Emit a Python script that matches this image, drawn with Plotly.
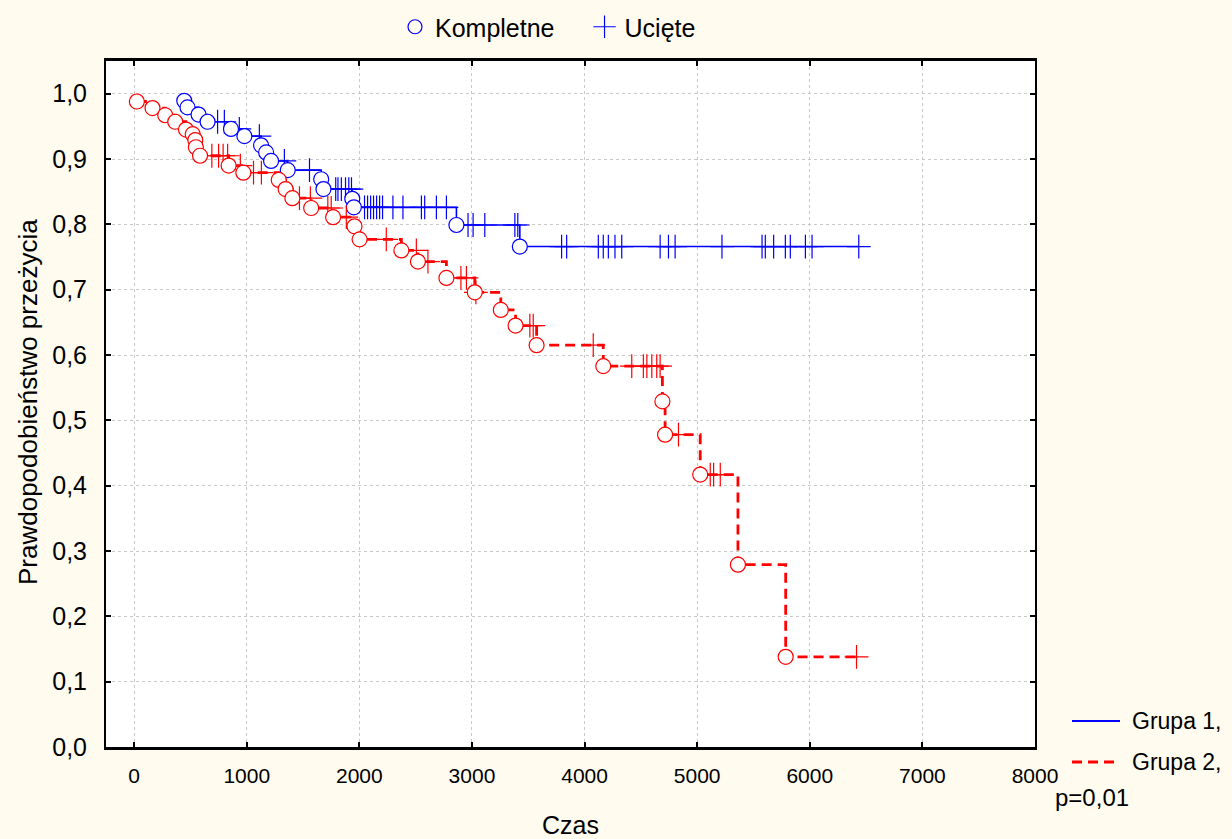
import numpy as np
import plotly.graph_objects as go

# Kaplan-Meier estimates: event (complete) times and survival after each event
g1_event_t = [445, 474, 572, 652, 860, 979, 1127, 1172, 1216, 1364, 1661, 1681,
              1937, 1951, 2862, 3425]
g1_event_s = [0.989, 0.979, 0.968, 0.957, 0.946, 0.935, 0.921, 0.910, 0.897,
              0.883, 0.869, 0.854, 0.839, 0.826, 0.799, 0.766]
g1_censor_t = [741, 801, 934, 1112, 1334, 1557, 1790, 1810, 1840, 1877, 1906,
               1930, 2046, 2073, 2100, 2126, 2153, 2180, 2206, 2298, 2387, 2551,
               2580, 2684, 2773, 2965, 3010, 3114, 3381, 3407, 3796, 3841, 4122,
               4166, 4211, 4270, 4330, 4671, 4745, 4804, 5220, 5576, 5605, 5679,
               5783, 5827, 5961, 6020, 6435]

g2_event_t = [24, 163, 276, 365, 460, 520, 543, 548, 585, 839, 970, 1284, 1345,
              1405, 1572, 1767, 1957, 2002, 2373, 2520, 2773, 3025, 3256, 3387,
              3574, 4166, 4691, 4715, 5027, 5362, 5786]
g2_event_s = [0.988, 0.978, 0.967, 0.957, 0.945, 0.938, 0.929, 0.918, 0.905,
              0.890, 0.879, 0.868, 0.854, 0.840, 0.825, 0.811, 0.797, 0.777,
              0.760, 0.743, 0.718, 0.696, 0.669, 0.645, 0.615, 0.583, 0.529,
              0.478, 0.417, 0.279, 0.138]
g2_censor_t = [690, 750, 790, 830, 943, 1060, 1130, 1468, 1565, 1720, 1750, 1884,
               2239, 2506, 2609, 2902, 2951, 3035, 3514, 3544, 4077, 4419, 4522,
               4553, 4597, 4641, 4671, 4834, 5116, 5146, 5205, 6415]

x_ticks = [0, 1000, 2000, 3000, 4000, 5000, 6000, 7000, 8000]
x_ticktext = ["0", "1000", "2000", "3000", "4000", "5000", "6000", "7000", "8000"]
y_ticks = [0.0, 0.1, 0.2, 0.3, 0.4, 0.5, 0.6, 0.7, 0.8, 0.9, 1.0]
y_ticktext = ["0,0", "0,1", "0,2", "0,3", "0,4", "0,5", "0,6", "0,7", "0,8", "0,9", "1,0"]

BLUE = "#0000FF"
RED = "#FF0000"
FONT = "Liberation Sans, Arial, sans-serif"
RED_DASH = "10px,6px"


def censor_levels(event_t, event_s, censor_t):
    """Survival value of the step curve at each censoring time."""
    idx = np.searchsorted(np.asarray(event_t), np.asarray(censor_t), side="right") - 1
    s = np.asarray(event_s)
    return [float(s[i]) if i >= 0 else 1.0 for i in idx]


def step_xy(event_t, event_s, censor_t):
    xs = list(event_t)
    ys = list(event_s)
    last = max(censor_t)
    if last > xs[-1]:
        xs.append(last)
        ys.append(ys[-1])
    return xs, ys


fig = go.Figure()

groups = [
    (g1_event_t, g1_event_s, g1_censor_t, BLUE, "solid", 1.6),
    (g2_event_t, g2_event_s, g2_censor_t, RED, RED_DASH, 2.8),
]

for ev_t, ev_s, c_t, color, dash, lw in groups:
    sx, sy = step_xy(ev_t, ev_s, c_t)
    fig.add_trace(go.Scatter(
        x=sx, y=sy, mode="lines", line=dict(color=color, width=lw, dash=dash, shape="hv"),
        showlegend=False, hoverinfo="skip"))

for ev_t, ev_s, c_t, color, dash, lw in groups:
    fig.add_trace(go.Scatter(
        x=c_t, y=censor_levels(ev_t, ev_s, c_t), mode="markers",
        marker=dict(symbol="cross-thin", size=17, color=color,
                    line=dict(color=color, width=1.2)),
        showlegend=False, hoverinfo="skip"))
    fig.add_trace(go.Scatter(
        x=ev_t, y=ev_s, mode="markers",
        marker=dict(symbol="circle", size=15, color="white",
                    line=dict(color=color, width=1.2)),
        showlegend=False, hoverinfo="skip"))

# Marker legend at the top
fig.add_trace(go.Scatter(
    x=[None], y=[None], mode="markers", name="Kompletne\u2003",
    marker=dict(symbol="circle-open", size=14, color=BLUE, line=dict(color=BLUE, width=1.2))))
fig.add_trace(go.Scatter(
    x=[None], y=[None], mode="markers", name="Ucięte",
    marker=dict(symbol="cross-thin", size=16, color=BLUE, line=dict(color=BLUE, width=1.2))))

axis_common = dict(
    showgrid=True, gridcolor="#C8C8C8", griddash="3px,3px", gridwidth=1,
    showline=True, linecolor="black", mirror="ticks",
    ticks="inside", ticklen=5, tickcolor="black", tickwidth=1.5,
    zeroline=False,
)

fig.update_xaxes(range=[-250, 8000], tickvals=x_ticks, ticktext=x_ticktext,
                 linewidth=3, ticklabelstandoff=8,
                 tickfont=dict(family=FONT, size=21, color="black"), **axis_common)
fig.update_yaxes(range=[0, 1.05], tickvals=y_ticks, ticktext=y_ticktext,
                 linewidth=2, ticklabelstandoff=12,
                 tickfont=dict(family=FONT, size=25, color="black"), **axis_common)

# Group legend (right, below the plot) drawn from lines and labels
def px_x(px):
    return (px - 106) / 929


def px_y(py):
    return (747 - py) / 686


shapes = [
    dict(type="line", xref="paper", yref="paper", x0=px_x(1072), x1=px_x(1120),
         y0=px_y(721), y1=px_y(721), line=dict(color=BLUE, width=2)),
    dict(type="line", xref="paper", yref="paper", x0=px_x(1072), x1=px_x(1120),
         y0=px_y(762), y1=px_y(762), line=dict(color=RED, width=2.8, dash=RED_DASH)),
]

annotations = [
    dict(text="Grupa 1,", xref="paper", yref="paper", x=px_x(1130), y=px_y(721),
         xanchor="left", yanchor="middle", showarrow=False, font=dict(family=FONT, size=23)),
    dict(text="Grupa 2,", xref="paper", yref="paper", x=px_x(1130), y=px_y(762),
         xanchor="left", yanchor="middle", showarrow=False, font=dict(family=FONT, size=23)),
    dict(text="p=0,01", xref="paper", yref="paper", x=px_x(1053), y=px_y(797),
         xanchor="left", yanchor="middle", showarrow=False, font=dict(family=FONT, size=24)),
    dict(text="Czas", xref="paper", yref="paper", x=0.5, y=px_y(825),
         xanchor="center", yanchor="middle", showarrow=False, font=dict(family=FONT, size=25)),
    dict(text="Prawdopodobieństwo przeżycia", xref="paper", yref="paper",
         x=px_x(28), y=px_y(402), textangle=-90,
         xanchor="center", yanchor="middle", showarrow=False, font=dict(family=FONT, size=26)),
]

fig.update_layout(
    width=1232, height=839,
    margin=dict(l=106, r=197, t=61, b=92, autoexpand=False),
    paper_bgcolor="#FFFBEF", plot_bgcolor="white",
    font=dict(family=FONT, size=21, color="black"),
    legend=dict(orientation="h", x=395 / 1232, xanchor="left", xref="container",
                y=1 - 27 / 839, yanchor="middle", yref="container",
                font=dict(family=FONT, size=25), bgcolor="rgba(0,0,0,0)",
                itemwidth=30, traceorder="normal"),
    shapes=shapes, annotations=annotations,
)

fig.write_html("out.html")
